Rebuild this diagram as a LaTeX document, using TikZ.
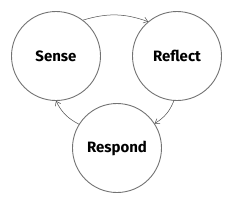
\documentclass[tikz,border=0pt]{standalone}
\usepackage{fontspec}
\setmainfont{Fira Sans}
\usetikzlibrary{arrows.meta}
\begin{document}
\begin{tikzpicture}[x=1pt,y=-1pt,
  stage/.style={circle,draw=black!55,line width=0.9pt,minimum size=89pt,inner sep=0pt,font=\fontsize{15}{18}\selectfont\bfseries,text=black},
  flow/.style={draw=black!70,line width=0.5pt,-{Straight Barb[length=4pt,width=6pt]}}]
\useasboundingbox (0,0) rectangle (234,202);
\node[stage] (s) at (56,56) {Sense};
\node[stage] (r) at (177,56) {Reflect};
\node[stage] (p) at (117,148) {Respond};
\draw[flow] (s.53) to[bend left=18] (r.130);
\draw[flow] (r.266) to[bend left=18] (p.33);
\draw[flow] (p.148) to[bend left=18] (s.270);
\end{tikzpicture}
\end{document}
